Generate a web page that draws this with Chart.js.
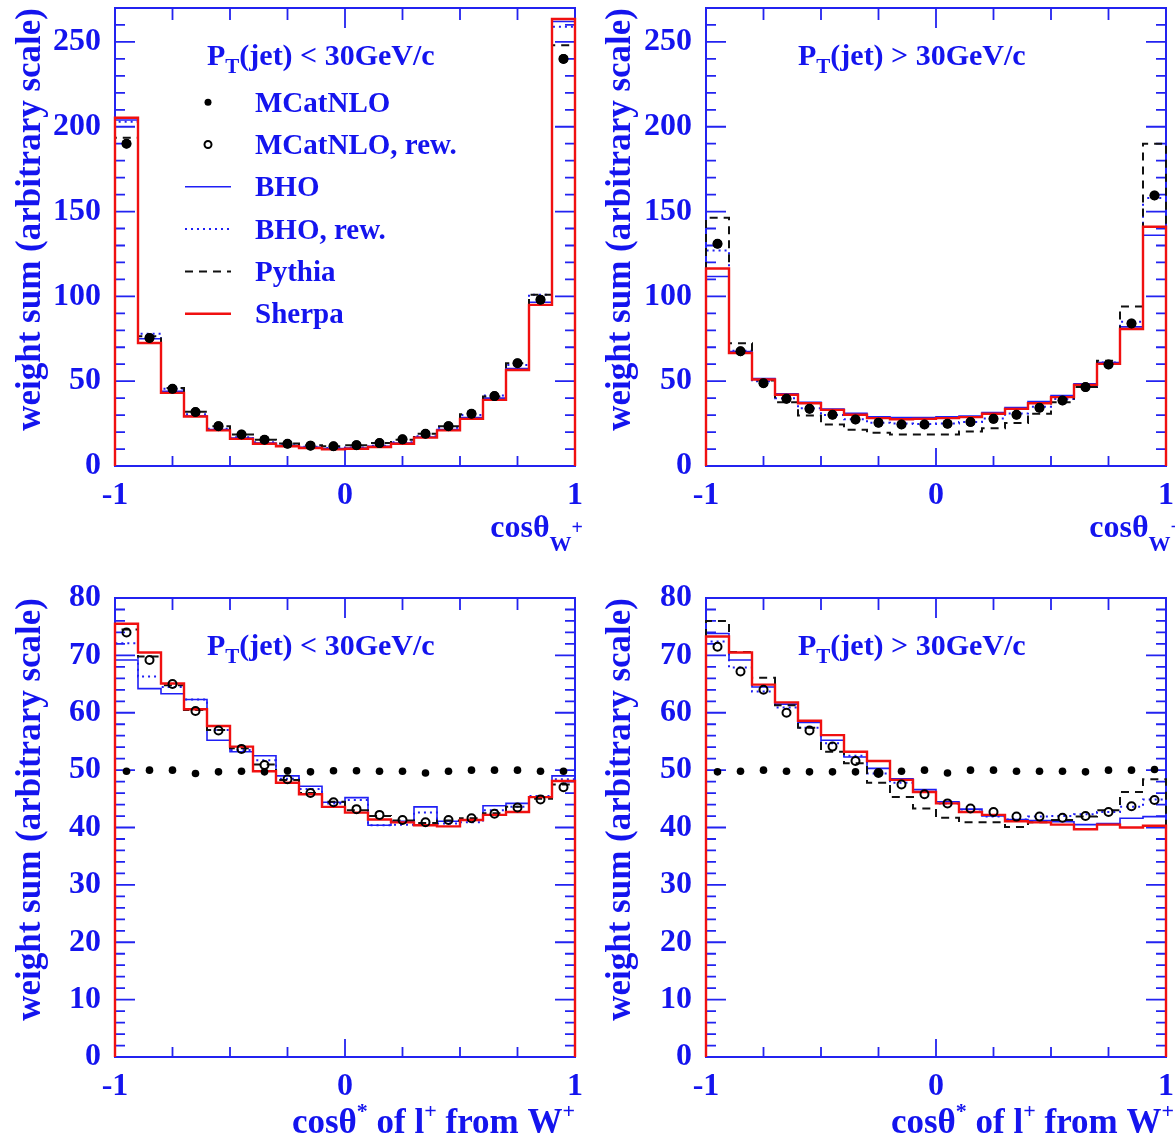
<!DOCTYPE html>
<html>
<head>
<meta charset="utf-8">
<title>W+ angular distributions</title>
<script src="https://cdn.jsdelivr.net/npm/chart.js@4.4.1/dist/chart.umd.min.js"></script>
<style>
  body { margin: 0; background: #fff; }
  .wrap { position: relative; width: 1175px; height: 1140px; overflow: hidden; }
  canvas { position: absolute; }
</style>
</head>
<body>
<div class="wrap">
  <canvas id="topLow" width="590" height="565" style="left:0px;top:0px"></canvas>
  <canvas id="topHigh" width="585" height="565" style="left:590px;top:0px"></canvas>
  <canvas id="botLow" width="590" height="560" style="left:0px;top:580px"></canvas>
  <canvas id="botHigh" width="585" height="560" style="left:590px;top:580px"></canvas>
</div>
<script>
// bins of cos(theta), 20 bins from -1 to 1
const binEdges = [-1, -0.9, -0.8, -0.7, -0.6, -0.5, -0.4, -0.3, -0.2, -0.1, 0,
  0.1, 0.2, 0.3, 0.4, 0.5, 0.6, 0.7, 0.8, 0.9, 1];
const binCenters = [-0.95, -0.85, -0.75, -0.65, -0.55, -0.45, -0.35, -0.25, -0.15, -0.05,
  0.05, 0.15, 0.25, 0.35, 0.45, 0.55, 0.65, 0.75, 0.85, 0.95];

// top row: cos theta of W+, pT(jet) < 30
const topLowMcatnlo = [190, 75.5, 45.5, 31.8, 23.5, 18.6, 15.5, 13.1, 12, 11.6, 12.3, 13.5, 15.7, 19, 23.5, 30.8, 41.2, 60.6, 98, 240];
const topLowMcatnloRew = [190, 75.5, 45.5, 31.8, 23.5, 18.6, 15.5, 13.1, 12, 11.6, 12.3, 13.5, 15.7, 19, 23.5, 30.8, 41.2, 60.6, 98, 240];
const topLowBho = [204, 75, 44, 29.5, 21.5, 16.5, 13.5, 12, 11, 10.3, 10.6, 11.6, 13.5, 17, 21.5, 28.5, 40, 57.5, 96.5, 262];
const topLowBhoRew = [203, 78, 45.5, 30.5, 22, 17, 14, 12.3, 11.3, 10.6, 10.9, 12, 14, 17.5, 22.5, 30, 41.5, 59.5, 101, 259];
const topLowPythia = [193.5, 76.5, 46, 32, 23.5, 18.5, 15.5, 13.3, 12.2, 11.6, 12.2, 13.5, 15.5, 19, 23.5, 30.5, 41, 60.5, 101, 248];
const topLowSherpa = [205.3, 72.5, 43.1, 29.2, 21, 16, 13.1, 11.6, 10.6, 9.8, 10.2, 11.2, 13.1, 16.7, 21, 27.8, 39, 56.6, 95, 263.5];

// top row: cos theta of W+, pT(jet) > 30
const topHighMcatnlo = [131, 67.6, 48.8, 39.6, 33.7, 30.2, 27.4, 25.5, 24.5, 24.5, 24.9, 25.9, 27.8, 30.2, 34.3, 38.6, 46.5, 59.8, 84, 159.5];
const topHighMcatnloRew = [131, 67.6, 48.8, 39.6, 33.7, 30.2, 27.4, 25.5, 24.5, 24.5, 24.9, 25.9, 27.8, 30.2, 34.3, 38.6, 46.5, 59.8, 84, 159.5];
const topHighBho = [111.7, 67.5, 51.5, 42.5, 37.5, 33.5, 31, 29, 28.5, 28.5, 29, 29.5, 31.5, 34.5, 38, 41.5, 48.5, 61, 82, 136];
const topHighBhoRew = [127, 68, 50, 40, 34, 30, 27.5, 25.5, 25, 24.8, 25, 26, 28, 31, 35, 39.5, 47, 61, 85, 158];
const topHighPythia = [146.4, 72.3, 50.4, 37.6, 29.8, 24.5, 21.4, 19.6, 18.6, 18.6, 18.6, 20.4, 22.3, 25.3, 30.8, 37.6, 46.5, 62.1, 94, 190];
const topHighSherpa = [116.4, 66.6, 51, 42, 37, 33.1, 30.2, 28.2, 27.6, 27.8, 28.2, 28.8, 30.8, 33.7, 37, 40.6, 47.8, 60.2, 80.8, 141];

// bottom row: cos theta* of l+ from W+, pT(jet) < 30
const botLowMcatnlo = [49.8, 50, 50, 49.4, 49.7, 49.8, 49.7, 49.9, 49.7, 49.9, 49.9, 49.8, 49.8, 49.5, 49.8, 50, 50, 50, 49.8, 49.8];
const botLowMcatnloRew = [74, 69.2, 65, 60.3, 56.9, 53.7, 50.9, 48.4, 46, 44.4, 43.2, 42.2, 41.3, 40.9, 41.3, 41.6, 42.4, 43.5, 44.9, 47];
const botLowBho = [69.2, 64.2, 63.3, 62.3, 55.2, 53.2, 52.5, 49, 47.2, 44.4, 45.2, 40.4, 41.1, 43.6, 41.1, 41.3, 43.8, 44.2, 45.3, 49];
const botLowBhoRew = [72.1, 66.3, 64.5, 62.3, 57, 53.5, 51.7, 48.5, 46.7, 44.2, 44.8, 40.4, 40.5, 42.6, 40.7, 40.9, 43, 43.6, 45.5, 48.4];
const botLowPythia = [74.5, 69.8, 64.8, 60.5, 57, 53.8, 51, 48.3, 46, 44.5, 43, 42, 41.2, 40.8, 41.2, 41.6, 42.5, 43.6, 45, 47.5];
const botLowSherpa = [75.5, 70.5, 65.1, 60.6, 57.7, 54.1, 49.8, 47.8, 45.8, 43.6, 42.6, 41.4, 40.9, 40.4, 40.2, 41.3, 42.2, 42.7, 45.3, 48.1];

// bottom row: cos theta* of l+ from W+, pT(jet) > 30
const botHighMcatnlo = [49.7, 49.8, 50, 49.8, 49.7, 49.7, 49.7, 49.5, 49.8, 50, 49.5, 50, 50, 49.8, 49.8, 49.8, 49.7, 50, 50, 50.1];
const botHighMcatnloRew = [71.5, 67.2, 64, 60, 56.9, 54.1, 51.6, 49.5, 47.5, 45.8, 44.2, 43.3, 42.7, 41.9, 41.9, 41.7, 42, 42.7, 43.7, 44.8];
const botHighBho = [73.8, 69.2, 64.5, 61.5, 58.3, 55.2, 52.3, 50.3, 48.5, 46.6, 44.5, 43.2, 42, 41.4, 41.2, 41, 40.5, 40.7, 41.6, 41.9];
const botHighBhoRew = [72.4, 67.9, 63.7, 60.9, 57.4, 54.7, 52.5, 49.4, 47.8, 46.2, 44.2, 42.8, 41.9, 41.4, 41.9, 42, 42.3, 42.7, 43.6, 44.9];
const botHighPythia = [76, 70.6, 66.1, 61.3, 57.4, 53.2, 51.2, 47.8, 45.3, 43.3, 41.7, 40.9, 40.9, 40.1, 40.9, 41.3, 41.9, 43, 46.2, 48.4];
const botHighSherpa = [73.3, 70.5, 64.9, 61.8, 58.6, 56.1, 53.2, 51.6, 48.3, 46.2, 44.2, 42.7, 42.2, 41.1, 40.9, 40.5, 39.7, 40.5, 40, 40.3];

const legendLabels = ["MCatNLO", "MCatNLO, rew.", "BHO", "BHO, rew.", "Pythia", "Sherpa"];
const yTitle = "weight sum (arbitrary scale)";

const SERIF = '"Liberation Serif", "Times New Roman", serif';
const TEXT_BLUE = "#1414ee";
const FRAME_BLUE = "#2323f0";

Chart.defaults.font.family = SERIF;
Chart.defaults.color = TEXT_BLUE;

// [text, font size, vertical shift]
const xTitleTop = [["cos", 32, 0], ["θ", 32, 0], ["W", 22, 14], ["+", 20, -3]];
const xTitleBottom = [["cosθ", 35, 0], ["*", 22, -15], [" of l", 35, 0], ["+", 22, -15], [" from W", 35, 0], ["+", 22, -15]];
const cutLow = [["P", 30, 0], ["T", 21, 8], ["(jet) < 30GeV/c", 30, 0]];
const cutHigh = [["P", 30, 0], ["T", 21, 8], ["(jet) > 30GeV/c", 30, 0]];

function drawRich(ctx, parts, x, y, align) {
  let width = 0;
  parts.forEach(([t, size]) => {
    ctx.font = `bold ${size}px ${SERIF}`;
    width += ctx.measureText(t).width;
  });
  let cx = align === "right" ? x - width : x;
  parts.forEach(([t, size, dy]) => {
    ctx.font = `bold ${size}px ${SERIF}`;
    ctx.fillText(t, cx, y + dy);
    cx += ctx.measureText(t).width;
  });
}

function histPoints(values) {
  const last = binEdges.length - 1;
  const pts = [{ x: binEdges[0], y: 0 }];
  values.forEach((v, i) => pts.push({ x: binEdges[i], y: v }));
  pts.push({ x: binEdges[last], y: values[values.length - 1] });
  pts.push({ x: binEdges[last], y: 0 });
  return pts;
}

function markerPoints(values) {
  return values.map((v, i) => ({ x: binCenters[i], y: v }));
}

const styles = {
  bho: { color: "#1f1ff5", width: 1.6, dash: [] },
  bhoRew: { color: "#1f1ff5", width: 2, dash: [2, 4] },
  pythia: { color: "#111", width: 2, dash: [8, 6] },
  sherpa: { color: "#f01010", width: 2.4, dash: [] },
};

function histDataset(values, st) {
  return {
    data: histPoints(values),
    showLine: true,
    stepped: true,
    borderColor: st.color,
    borderWidth: st.width,
    borderDash: st.dash,
    pointRadius: 0,
    fill: false,
    clip: false,
  };
}

const frameTicks = {
  id: "frameTicks",
  beforeDatasetsDraw(chart, args, opts) {
    const { ctx, chartArea: a, scales: { x, y } } = chart;
    ctx.save();
    ctx.strokeStyle = FRAME_BLUE;
    ctx.lineWidth = 2;
    ctx.strokeRect(a.left, a.top, a.right - a.left, a.bottom - a.top);
    ctx.lineWidth = 1.8;
    ctx.beginPath();
    for (let v = x.min; v <= x.max + 1e-9; v += opts.xMinor) {
      const px = x.getPixelForValue(v);
      const major = Math.abs(v - Math.round(v)) < 1e-6;
      ctx.moveTo(px, a.bottom);
      ctx.lineTo(px, a.bottom - (major ? 18 : 10));
      ctx.moveTo(px, a.top);
      ctx.lineTo(px, a.top + (major ? 20 : 12));
    }
    for (let v = 0; v <= y.max + 1e-9; v += opts.yMinor) {
      const py = y.getPixelForValue(v);
      const len = Math.abs(v / opts.yMajor - Math.round(v / opts.yMajor)) < 1e-6 ? 20 : 10;
      ctx.moveTo(a.left, py);
      ctx.lineTo(a.left + len, py);
      ctx.moveTo(a.right, py);
      ctx.lineTo(a.right - len, py);
    }
    ctx.stroke();
    ctx.restore();
  },
};

const panelText = {
  id: "panelText",
  afterDraw(chart, args, opts) {
    const { ctx, chartArea: a } = chart;
    ctx.save();
    ctx.fillStyle = TEXT_BLUE;
    ctx.textBaseline = "alphabetic";
    drawRich(ctx, opts.cut, a.left + 92, a.top + 57, "left");
    drawRich(ctx, opts.xTitle, a.right + opts.titleShift, a.bottom + opts.titleDrop, "right");

    if (opts.legend) {
      const kinds = ["dot", "circle", "bho", "bhoRew", "pythia", "sherpa"];
      legendLabels.forEach((label, i) => {
        const base = a.top + 103.7 + 42.3 * i;
        const my = base - 9.5;
        const kind = kinds[i];
        if (kind === "dot" || kind === "circle") {
          ctx.beginPath();
          ctx.arc(a.left + 93, my, 3.5, 0, Math.PI * 2);
          if (kind === "dot") {
            ctx.fillStyle = "#000";
            ctx.fill();
          } else {
            ctx.strokeStyle = "#000";
            ctx.lineWidth = 2;
            ctx.stroke();
          }
        } else {
          const st = styles[kind];
          ctx.strokeStyle = st.color;
          ctx.lineWidth = st.width;
          ctx.setLineDash(st.dash);
          ctx.beginPath();
          ctx.moveTo(a.left + 70, my);
          ctx.lineTo(a.left + 116, my);
          ctx.stroke();
          ctx.setLineDash([]);
        }
        ctx.fillStyle = TEXT_BLUE;
        ctx.font = `bold 29px ${SERIF}`;
        ctx.fillText(label, a.left + 140, base);
      });
    }
    ctx.restore();
  },
};

function makePanel(id, p) {
  const dotR = p.yMax > 100 ? 4.8 : 3.8;
  new Chart(document.getElementById(id), {
    type: "scatter",
    data: {
      datasets: [
        {
          data: markerPoints(p.mcatnlo),
          pointRadius: dotR,
          pointBackgroundColor: "#000",
          pointBorderWidth: 0,
          showLine: false,
        },
        {
          data: markerPoints(p.mcatnloRew),
          pointRadius: 4,
          pointBackgroundColor: "rgba(0,0,0,0)",
          pointBorderColor: "#000",
          pointBorderWidth: 2,
          showLine: false,
        },
        histDataset(p.sherpa, styles.sherpa),
        histDataset(p.pythia, styles.pythia),
        histDataset(p.bhoRew, styles.bhoRew),
        histDataset(p.bho, styles.bho),
      ],
    },
    options: {
      responsive: false,
      animation: false,
      events: [],
      layout: { padding: { left: 0, top: p.area.top, right: p.w - p.area.right, bottom: 0 } },
      scales: {
        x: {
          type: "linear",
          min: -1,
          max: 1,
          grid: { display: false },
          border: { display: false },
          ticks: { stepSize: 1, padding: 3, maxRotation: 0, font: { size: 32, weight: "bold" } },
          afterFit(s) {
            s.height = p.h - p.area.bottom;
            s.paddingLeft = 0;
            s.paddingRight = 0;
          },
        },
        y: {
          min: 0,
          max: p.yMax,
          grid: { display: false },
          border: { display: false },
          ticks: { padding: 6, font: { size: 32, weight: "bold" } },
          afterBuildTicks(s) {
            const ticks = [];
            for (let v = 0; v <= p.yMax; v += p.yStep) ticks.push({ value: v });
            s.ticks = ticks;
          },
          afterFit(s) {
            s.width = p.area.left;
            s.paddingTop = 0;
            s.paddingBottom = 0;
          },
          title: {
            display: true,
            text: yTitle,
            align: "end",
            padding: { top: 10, bottom: 0 },
            font: { size: 35, weight: "bold" },
          },
        },
      },
      plugins: {
        legend: { display: false },
        tooltip: { enabled: false },
        frameTicks: { xMinor: 0.25, yMinor: p.yMinor, yMajor: p.yStep },
        panelText: {
          cut: p.cut,
          xTitle: p.xTitle,
          titleShift: p.titleShift,
          titleDrop: p.titleDrop,
          legend: p.legend,
        },
      },
    },
    plugins: [frameTicks, panelText],
  });
}

const topArea = { left: 115, top: 8, right: 575, bottom: 466 };
const botArea = { left: 115, top: 18, right: 575, bottom: 477 };

makePanel("topLow", {
  w: 590, h: 565, area: topArea, yMax: 270, yStep: 50, yMinor: 10,
  mcatnlo: topLowMcatnlo, mcatnloRew: topLowMcatnloRew, bho: topLowBho,
  bhoRew: topLowBhoRew, pythia: topLowPythia, sherpa: topLowSherpa,
  cut: cutLow, xTitle: xTitleTop, titleShift: 8, titleDrop: 71, legend: true,
});
makePanel("topHigh", {
  w: 585, h: 565, area: { left: 116, top: 8, right: 576, bottom: 466 }, yMax: 270, yStep: 50, yMinor: 10,
  mcatnlo: topHighMcatnlo, mcatnloRew: topHighMcatnloRew, bho: topHighBho,
  bhoRew: topHighBhoRew, pythia: topHighPythia, sherpa: topHighSherpa,
  cut: cutHigh, xTitle: xTitleTop, titleShift: 16, titleDrop: 71, legend: false,
});
makePanel("botLow", {
  w: 590, h: 560, area: botArea, yMax: 80, yStep: 10, yMinor: 2,
  mcatnlo: botLowMcatnlo, mcatnloRew: botLowMcatnloRew, bho: botLowBho,
  bhoRew: botLowBhoRew, pythia: botLowPythia, sherpa: botLowSherpa,
  cut: cutLow, xTitle: xTitleBottom, titleShift: 0, titleDrop: 76, legend: false,
});
makePanel("botHigh", {
  w: 585, h: 560, area: { left: 116, top: 18, right: 576, bottom: 477 }, yMax: 80, yStep: 10, yMinor: 2,
  mcatnlo: botHighMcatnlo, mcatnloRew: botHighMcatnloRew, bho: botHighBho,
  bhoRew: botHighBhoRew, pythia: botHighPythia, sherpa: botHighSherpa,
  cut: cutHigh, xTitle: xTitleBottom, titleShift: 8, titleDrop: 76, legend: false,
});
</script>
</body>
</html>
